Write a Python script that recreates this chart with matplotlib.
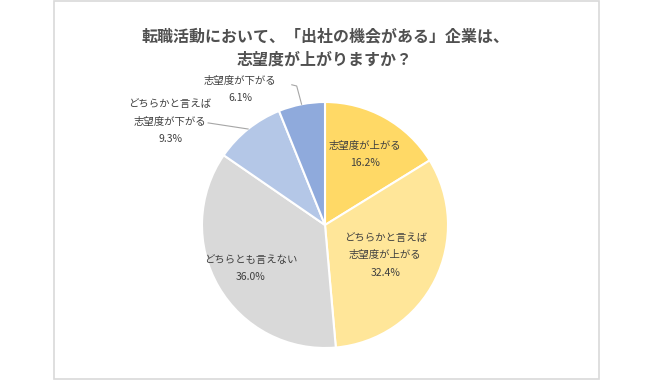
import numpy as np
import matplotlib
matplotlib.use("Agg")
import matplotlib.pyplot as plt
from matplotlib.patches import Rectangle

plt.rcParams['font.family'] = ['Noto Sans CJK JP', 'DejaVu Sans']

labels = ["志望度が上がる", "どちらかと言えば\n志望度が上がる", "どちらとも言えない",
          "どちらかと言えば\n志望度が下がる", "志望度が下がる"]
values = [16.2, 32.4, 36.0, 9.3, 6.1]
colors = ["#FFD966", "#FFE699", "#D9D9D9", "#B4C7E7", "#8FAADC"]
title = "転職活動において、「出社の機会がある」企業は、\n志望度が上がりますか？"

fig = plt.figure(figsize=(6.5, 3.8), dpi=100)
fig.patches.append(Rectangle((54 / 650, 0.002), 545 / 650, 0.996, transform=fig.transFigure,
                             fill=False, edgecolor="#D9D9D9", linewidth=1.2))

fig.text(0.5, 1 - 48 / 380, title, ha="center", va="center", fontsize=11.5,
         fontweight="bold", color="#505050", linespacing=1.55)

# pie centre (325, 225), radius ~123 px
ax = fig.add_axes([(325 - 123) / 650, 1 - (225 + 123) / 380, 246 / 650, 246 / 380])
wedges, _ = ax.pie(values, colors=colors, startangle=90, counterclock=False,
                   wedgeprops=dict(edgecolor="white", linewidth=1.5))
ax.set_xlim(-1, 1)
ax.set_ylim(-1, 1)
ax.set_aspect("equal")
ax.axis("off")

tc = "#404040"
inside_r = [0.66, 0.55, 0.70]
for i in range(3):
    w = wedges[i]
    a = np.deg2rad((w.theta1 + w.theta2) / 2)
    ax.text(inside_r[i] * np.cos(a), inside_r[i] * np.sin(a),
            f"{labels[i]}\n{values[i]:.1f}%", ha="center", va="center",
            fontsize=7.5, color=tc, linespacing=1.9)

# outside labels with leader lines
w = wedges[3]
a = np.deg2rad((w.theta1 + w.theta2) / 2)
ex, ey = np.cos(a), np.sin(a)
ax.text(-1.26, 0.84, f"{labels[3]}\n{values[3]:.1f}%", ha="center", va="center",
        fontsize=7.5, color=tc, linespacing=1.9, clip_on=False)
ax.plot([-0.95, ex], [0.83, ey], color="#A6A6A6", lw=0.8, clip_on=False)

w = wedges[4]
a = np.deg2rad((w.theta1 + w.theta2) / 2)
ex, ey = np.cos(a), np.sin(a)
ax.text(-0.69, 1.10, f"{labels[4]}\n{values[4]:.1f}%", ha="center", va="center",
        fontsize=7.5, color=tc, linespacing=1.9, clip_on=False)
ax.plot([-0.27, -0.23, ex], [1.14, 1.13, ey], color="#A6A6A6", lw=0.8, clip_on=False)

fig.savefig("out.png", dpi=100)
